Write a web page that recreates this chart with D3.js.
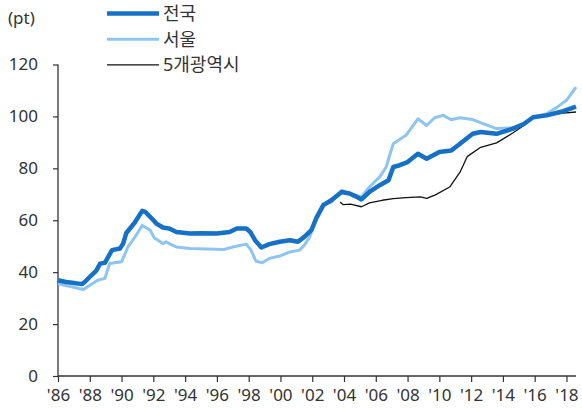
<!DOCTYPE html>
<html>
<head>
<meta charset="utf-8">
<script src="https://cdn.jsdelivr.net/npm/d3@7"></script>
<style>
  body { margin: 0; background: #fff; }
  svg text { font-family: "Noto Sans", "Noto Sans CJK KR", sans-serif; fill: #333; }
</style>
</head>
<body>
<svg id="chart" width="582" height="408"></svg>
<script>
// [year, index] pairs
var jeonguk = [[1986.0,36.9],[1986.5,36.2],[1986.9,35.9],[1987.5,35.4],[1987.7,36.3],[1988.1,38.8],[1988.4,40.5],[1988.65,43.3],[1988.95,43.6],[1989.4,48.5],[1989.9,49.1],[1990.1,51],[1990.3,55.1],[1990.85,59.3],[1991.3,63.6],[1991.5,63.2],[1991.7,61.9],[1992.05,59.7],[1992.2,58.7],[1992.6,57.2],[1993.0,56.8],[1993.45,55.5],[1994.3,54.9],[1995.0,55.0],[1996.0,54.9],[1996.8,55.5],[1997.25,56.8],[1997.85,56.8],[1998.1,55.5],[1998.4,52.3],[1998.8,49.5],[1999.3,50.8],[1999.95,51.7],[2000.6,52.3],[2001.1,51.7],[2001.5,53.6],[2001.95,56.2],[2002.25,60.7],[2002.7,65.8],[2003.2,67.7],[2003.85,70.9],[2004.35,70.3],[2004.7,69.3],[2005.1,68.0],[2005.6,70.9],[2006.25,73.5],[2006.8,75.4],[2007.1,80.5],[2007.5,81.2],[2008.0,82.4],[2008.65,85.6],[2009.2,83.7],[2010.0,86.3],[2010.75,86.9],[2011.3,89.5],[2012.1,93.3],[2012.6,94],[2013.6,93.3],[2014.6,95.2],[2015.3,97],[2015.9,99.7],[2016.75,100.4],[2017.8,102],[2018.6,103.8]];

var seoul = [[1986.0,35.5],[1987.05,34.1],[1987.6,33.3],[1987.9,34.6],[1988.5,36.9],[1988.95,37.6],[1989.25,43.3],[1990.0,44.0],[1990.4,49.7],[1990.85,53.6],[1991.3,58.0],[1991.8,56.2],[1992.05,53.3],[1992.6,51.0],[1992.8,51.7],[1993.05,50.8],[1993.45,49.7],[1994.3,49.1],[1996.4,48.7],[1997.0,49.7],[1997.85,50.8],[1998.15,48.5],[1998.45,44.3],[1998.85,43.6],[1999.3,45.3],[1999.95,46.2],[2000.6,47.8],[2001.2,48.5],[2001.5,50.4],[2001.85,53.6],[2002.25,61.3],[2002.7,66.4],[2003.2,67.0],[2003.85,71.5],[2004.2,70.5],[2005.1,69.0],[2005.6,72.8],[2006.25,76.7],[2006.65,80.5],[2007.1,89.5],[2007.9,92.7],[2008.65,99.1],[2009.2,96.5],[2009.7,99.5],[2010.25,100.4],[2010.75,98.7],[2011.3,99.5],[2012.1,98.8],[2012.75,97.2],[2013.6,95.3],[2014.6,95.6],[2015.25,97.2],[2015.9,99.7],[2016.75,101],[2017.35,103.3],[2018.0,106.2],[2018.6,111.3]];

var metro5 = [[2003.75,67.0],[2003.95,66.0],[2004.4,66.2],[2005.1,65.2],[2005.6,66.7],[2006.4,67.7],[2007.1,68.3],[2007.9,68.7],[2008.8,69.0],[2009.2,68.4],[2009.75,69.8],[2010.65,72.8],[2011.3,78.5],[2011.75,84.5],[2012.6,88.1],[2013.6,89.8],[2014.6,93.5],[2015.2,96],[2015.9,99.7],[2016.75,100.4],[2017.8,101.3],[2018.6,101.7]];

var yearTicks = [1986,1988,1990,1992,1994,1996,1998,2000,2002,2004,2006,2008,2010,2012,2014,2016,2018];
var valueTicks = [0,20,40,60,80,100,120];
var seriesNames = ["전국", "서울", "5개광역시"];

var svg = d3.select("#chart");
var margin = { left: 58, right: 6, top: 64, bottom: 32 };

var x = d3.scaleLinear().domain([1986, 2018.6]).range([margin.left, 576]);
var y = d3.scaleLinear().domain([0, 120]).range([376, 64.5]);

// axes
var xAxis = svg.append("g")
    .attr("transform", "translate(0,376)")
    .call(d3.axisBottom(x).tickValues(yearTicks).tickSize(6).tickPadding(7)
        .tickFormat(function (d) { return "'" + String(d).slice(2); }));
var yAxis = svg.append("g")
    .attr("transform", "translate(" + margin.left + ",0)")
    .call(d3.axisLeft(y).tickValues(valueTicks).tickSize(5).tickPadding(15));

[xAxis, yAxis].forEach(function (g) {
    g.select(".domain").attr("stroke", "#333").attr("stroke-width", 1.3);
    g.selectAll(".tick line").attr("stroke", "#333").attr("stroke-width", 1.2);
    g.selectAll(".tick text").style("font-size", "17px").attr("fill", "#333");
});
xAxis.select(".domain").attr("d", "M" + margin.left + ",0H576");
yAxis.select(".domain").attr("d", "M0," + y(120) + "V376");

// lines
var line = d3.line().x(function (d) { return x(d[0]); }).y(function (d) { return y(d[1]); });

svg.append("path").datum(seoul)
    .attr("d", line).attr("fill", "none")
    .attr("stroke", "#8ec4f2").attr("stroke-width", 3).attr("stroke-linejoin", "round");
svg.append("path").datum(metro5)
    .attr("d", line).attr("fill", "none")
    .attr("stroke", "#111").attr("stroke-width", 1.3).attr("stroke-linejoin", "round");
svg.append("path").datum(jeonguk)
    .attr("d", line).attr("fill", "none")
    .attr("stroke", "#1670c6").attr("stroke-width", 4.5).attr("stroke-linejoin", "round");

// unit label
svg.append("text").attr("x", 8).attr("y", 24).style("font-size", "17px").text("(pt)");

// legend
var legendStyle = [
    { color: "#1670c6", w: 4.5 },
    { color: "#8ec4f2", w: 3 },
    { color: "#111", w: 1.3 }
];
var legend = svg.append("g").selectAll("g")
    .data(seriesNames)
    .enter().append("g")
    .attr("transform", function (d, i) { return "translate(107," + (13.5 + i * 25.7) + ")"; });
legend.append("line")
    .attr("x1", 0).attr("x2", 52).attr("y1", 0).attr("y2", 0)
    .attr("stroke", function (d, i) { return legendStyle[i].color; })
    .attr("stroke-width", function (d, i) { return legendStyle[i].w; });
legend.append("text")
    .attr("x", 56).attr("y", 0).attr("dy", "0.35em")
    .style("font-size", "18px")
    .text(function (d) { return d; });
</script>
</body>
</html>
